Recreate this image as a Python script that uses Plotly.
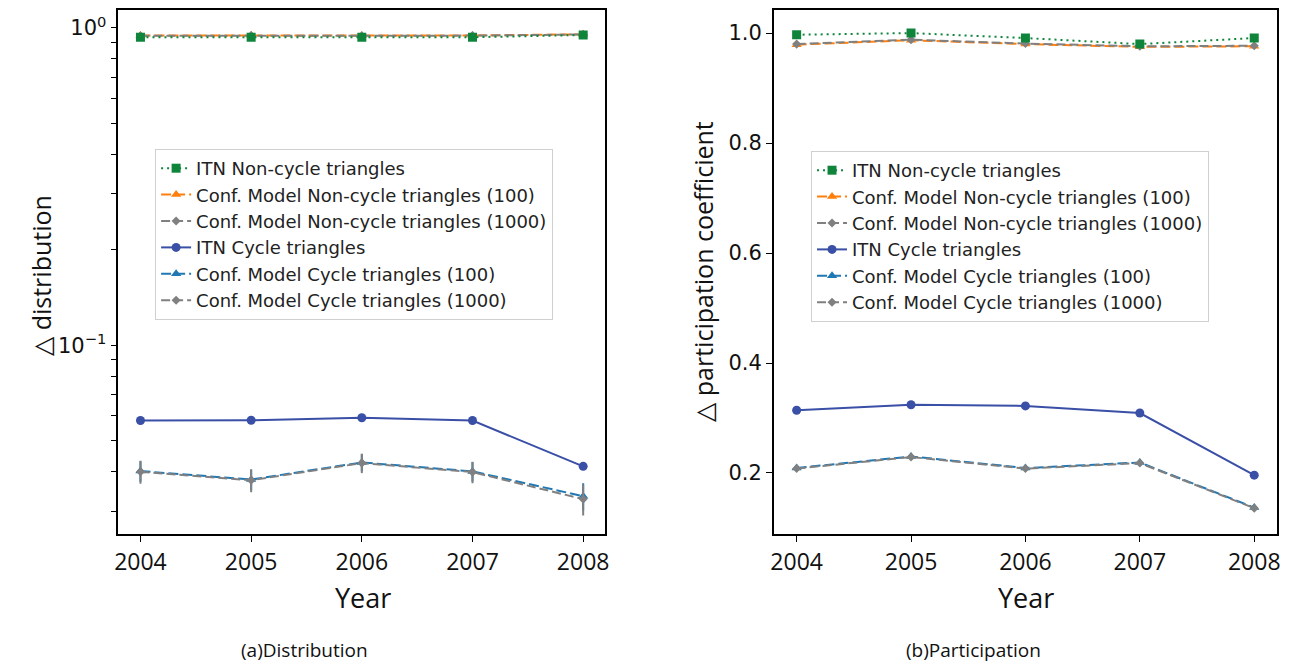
import plotly.graph_objects as go

years = [2004, 2005, 2006, 2007, 2008]

# (a) Distribution
dist_itn_noncycle = [0.935, 0.935, 0.935, 0.935, 0.950]
dist_cm_noncycle_100 = [0.946, 0.948, 0.946, 0.947, 0.955]
dist_cm_noncycle_1000 = [0.945, 0.947, 0.945, 0.946, 0.954]
dist_cm_noncycle_100_err = [0.004, 0.004, 0.004, 0.004, 0.004]
dist_cm_noncycle_1000_err = [0.003, 0.003, 0.003, 0.003, 0.003]
dist_itn_cycle = [0.0580, 0.0581, 0.0592, 0.0580, 0.0416]
dist_cm_cycle_100 = [0.0402, 0.0378, 0.0428, 0.0401, 0.0335]
dist_cm_cycle_1000 = [0.0400, 0.0376, 0.0426, 0.0399, 0.0328]
dist_cm_cycle_100_err = [0.0030, 0.0028, 0.0027, 0.0028, 0.0033]
dist_cm_cycle_1000_err = [0.0033, 0.0031, 0.0030, 0.0031, 0.0037]

# (b) Participation
part_itn_noncycle = [0.997, 1.000, 0.991, 0.980, 0.991]
part_cm_noncycle_100 = [0.979, 0.987, 0.980, 0.975, 0.976]
part_cm_noncycle_1000 = [0.980, 0.988, 0.981, 0.976, 0.977]
part_cm_noncycle_100_err = [0.002, 0.002, 0.002, 0.002, 0.002]
part_cm_noncycle_1000_err = [0.002, 0.002, 0.002, 0.002, 0.002]
part_itn_cycle = [0.314, 0.324, 0.322, 0.309, 0.196]
part_cm_cycle_100 = [0.209, 0.230, 0.209, 0.219, 0.137]
part_cm_cycle_1000 = [0.208, 0.229, 0.208, 0.218, 0.136]
part_cm_cycle_100_err = [0.003, 0.003, 0.003, 0.003, 0.003]
part_cm_cycle_1000_err = [0.003, 0.003, 0.003, 0.003, 0.003]

names = [
    "ITN Non-cycle triangles",
    "Conf. Model Non-cycle triangles (100)",
    "Conf. Model Non-cycle triangles (1000)",
    "ITN Cycle triangles",
    "Conf. Model Cycle triangles (100)",
    "Conf. Model Cycle triangles (1000)",
]
year_ticks = ["2004", "2005", "2006", "2007", "2008"]
log_tick_vals = [0.03, 0.04, 0.05, 0.06, 0.07, 0.08, 0.09, 0.1,
                 0.2, 0.3, 0.4, 0.5, 0.6, 0.7, 0.8, 0.9, 1.0]
log_tick_text = ["", "", "", "", "", "", "", "10<sup>\u22121</sup>",
                 "", "", "", "", "", "", "", "", "10<sup>0</sup>"]
part_tick_vals = [0.2, 0.4, 0.6, 0.8, 1.0]
part_tick_text = ["0.2", "0.4", "0.6", "0.8", "1.0"]

GREEN = "#0f853c"
ORANGE = "#ff7f0e"
GRAY = "#808080"
NAVY = "#3a4fa6"
BLUE = "#1f77b4"

# page body has an 8px margin: figure is sized so it ends at the window edge
OFF = 8
W, H = 1301 - OFF, 666 - OFF


def fx(sx):
    return (sx - OFF) / W


def fy(sy):
    return 1 - (sy - OFF) / H


fig = go.Figure()


def add_panel(xa, ya, legend, itn_nc, cm_nc100, cm_nc1000, e_nc100, e_nc1000,
              itn_c, cm_c100, cm_c1000, e_c100, e_c1000):
    common = dict(x=years, xaxis=xa, yaxis=ya, legend=legend, mode="lines+markers")
    fig.add_trace(go.Scatter(y=cm_nc100, name=names[1], legendrank=2,
                             line=dict(color=ORANGE, width=2, dash="10px,4px"),
                             marker=dict(symbol="triangle-up", size=9, color=ORANGE),
                             error_y=dict(type="data", array=e_nc100, color=ORANGE, thickness=2, width=0),
                             **common))
    fig.add_trace(go.Scatter(y=cm_nc1000, name=names[2], legendrank=3,
                             line=dict(color=GRAY, width=2, dash="9px,4px"),
                             marker=dict(symbol="diamond", size=7, color=GRAY),
                             error_y=dict(type="data", array=e_nc1000, color=GRAY, thickness=2, width=0),
                             **common))
    fig.add_trace(go.Scatter(y=itn_nc, name=names[0], legendrank=1,
                             line=dict(color=GREEN, width=2, dash="2px,4px"),
                             marker=dict(symbol="square", size=9, color=GREEN),
                             **common))
    fig.add_trace(go.Scatter(y=cm_c100, name=names[4], legendrank=5,
                             line=dict(color=BLUE, width=2, dash="10px,4px"),
                             marker=dict(symbol="triangle-up", size=9, color=BLUE),
                             error_y=dict(type="data", array=e_c100, color=BLUE, thickness=2, width=0),
                             **common))
    fig.add_trace(go.Scatter(y=cm_c1000, name=names[5], legendrank=6,
                             line=dict(color=GRAY, width=2, dash="9px,4px"),
                             marker=dict(symbol="diamond", size=7, color=GRAY),
                             error_y=dict(type="data", array=e_c1000, color=GRAY, thickness=2, width=0),
                             **common))
    fig.add_trace(go.Scatter(y=itn_c, name=names[3], legendrank=4,
                             line=dict(color=NAVY, width=2),
                             marker=dict(symbol="circle", size=9, color=NAVY),
                             **common))


add_panel("x", "y", "legend", dist_itn_noncycle, dist_cm_noncycle_100, dist_cm_noncycle_1000,
          dist_cm_noncycle_100_err, dist_cm_noncycle_1000_err,
          dist_itn_cycle, dist_cm_cycle_100, dist_cm_cycle_1000,
          dist_cm_cycle_100_err, dist_cm_cycle_1000_err)
add_panel("x2", "y2", "legend2", part_itn_noncycle, part_cm_noncycle_100, part_cm_noncycle_1000,
          part_cm_noncycle_100_err, part_cm_noncycle_1000_err,
          part_itn_cycle, part_cm_cycle_100, part_cm_cycle_1000,
          part_cm_cycle_100_err, part_cm_cycle_1000_err)

xcommon = dict(range=[2003.8, 2008.2], tickmode="array", tickvals=years, ticktext=year_ticks,
               showline=True, linecolor="black", linewidth=1.5, mirror=True,
               ticks="outside", ticklen=6, tickcolor="black", tickwidth=1.2,
               showgrid=False, zeroline=False, ticklabelstandoff=1,
               tickfont=dict(family="Open Sans", size=23, color="#111"))
ycommon = dict(showline=True, linecolor="black", linewidth=1.5, mirror=True,
               ticks="outside", ticklen=6, tickcolor="black", tickwidth=1.2,
               showgrid=False, zeroline=False,
               tickfont=dict(family="DejaVu Sans", size=21, color="#111"))

legend_common = dict(bgcolor="white", bordercolor="#d0d0d0", borderwidth=1,
                     font=dict(family="DejaVu Sans", size=18, color="#222"),
                     xanchor="left", yanchor="top", tracegroupgap=0)

ydom = [fy(534), fy(10)]

fig.update_layout(
    width=W, height=H,
    margin=dict(l=0, r=0, t=0, b=0),
    paper_bgcolor="white", plot_bgcolor="white",
    xaxis=dict(domain=[fx(115), fx(605)], anchor="y", **xcommon),
    xaxis2=dict(domain=[fx(774.5), fx(1281)], anchor="y2", **xcommon),
    yaxis=dict(domain=ydom, anchor="x", type="log", range=[-1.594, 0.0566],
               tickmode="array", tickvals=log_tick_vals, ticktext=log_tick_text,
               **ycommon),
    yaxis2=dict(domain=ydom, anchor="x2", range=[0.089, 1.042],
                tickmode="array", tickvals=part_tick_vals, ticktext=part_tick_text,
                **ycommon),
    legend=dict(x=fx(152), y=fy(149), **legend_common),
    legend2=dict(x=fx(812), y=fy(151), **legend_common),
)

ann_font = dict(family="Open Sans", size=25, color="#111")
fig.add_annotation(text="\u25b3 distribution", x=fx(37), y=fy(275), xref="paper", yref="paper",
                   textangle=-90, showarrow=False, font=ann_font, xanchor="center", yanchor="middle")
fig.add_annotation(text="\u25b3 participation coefficient", x=fx(703), y=fy(271), xref="paper", yref="paper",
                   textangle=-90, showarrow=False, font=ann_font, xanchor="center", yanchor="middle")
for cx in (361, 1028):
    fig.add_annotation(text="Year", x=fx(cx), y=fy(597), xref="paper", yref="paper",
                       showarrow=False, font=dict(family="Open Sans", size=27, color="#111"),
                       xanchor="center", yanchor="middle")
fig.add_annotation(text="(a)Distribution", x=fx(302), y=fy(650), xref="paper", yref="paper",
                   showarrow=False, font=dict(family="Open Sans", size=19, color="#111"),
                   xanchor="center", yanchor="middle")
fig.add_annotation(text="(b)Participation", x=fx(975), y=fy(650), xref="paper", yref="paper",
                   showarrow=False, font=dict(family="Open Sans", size=19, color="#111"),
                   xanchor="center", yanchor="middle")

fig.write_html("out.html")
